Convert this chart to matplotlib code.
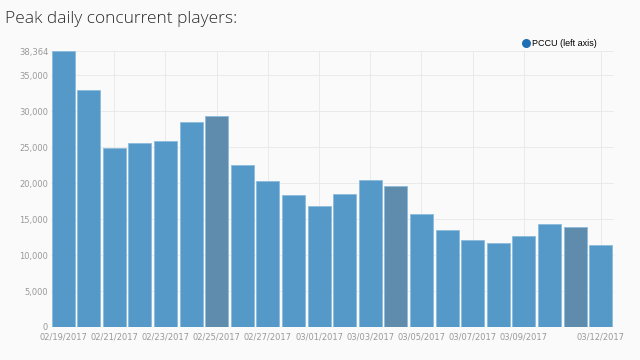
import matplotlib
matplotlib.use("Agg")
import matplotlib.pyplot as plt
import numpy as np

# Peak daily concurrent users, one bar per day
dates = [
    "02/19/2017", "02/20/2017", "02/21/2017", "02/22/2017", "02/23/2017",
    "02/24/2017", "02/25/2017", "02/26/2017", "02/27/2017", "02/28/2017",
    "03/01/2017", "03/02/2017", "03/03/2017", "03/04/2017", "03/05/2017",
    "03/06/2017", "03/07/2017", "03/08/2017", "03/09/2017", "03/10/2017",
    "03/11/2017", "03/12/2017",
]
pccu = [
    38364, 32950, 24850, 25550, 25850, 28450, 29300, 22450, 20300, 18350,
    16750, 18450, 20400, 19600, 15700, 13450, 12100, 11650, 12600, 14300,
    13900, 11350,
]
highlighted = ["02/25/2017", "03/04/2017", "03/11/2017"]
tick_labels = [
    "02/19/2017", "02/21/2017", "02/23/2017", "02/25/2017", "02/27/2017",
    "03/01/2017", "03/03/2017", "03/05/2017", "03/07/2017", "03/09/2017",
    "03/12/2017",
]
y_ticks = [0, 5000, 10000, 15000, 20000, 25000, 30000, 35000, 38364]

BG = "#fafafa"
BAR = "#5499c7"
BAR_DARK = "#5f8cad"
EDGE = "#8dbbdd"
TICK_COLOR = "#999999"

fig = plt.figure(figsize=(6.4, 3.6), dpi=100, facecolor=BG)
ax = fig.add_axes([51 / 640, 1 - 327 / 360, 563 / 640, 276 / 360], facecolor=BG)

x = np.arange(len(dates))
colors = [BAR_DARK if d in highlighted else BAR for d in dates]
ax.bar(x, pccu, width=0.9, color=colors, edgecolor=EDGE, linewidth=0.6, zorder=3)

ax.set_xlim(-0.47, len(dates) - 0.48)
ax.set_ylim(0, max(pccu))

tick_pos = [dates.index(t) for t in tick_labels]
ax.set_xticks(tick_pos)
ax.set_xticklabels(tick_labels, fontsize=6, color=TICK_COLOR, family="DejaVu Sans")
ax.set_yticks(y_ticks)
ax.set_yticklabels([f"{v:,}" for v in y_ticks], fontsize=6, color=TICK_COLOR, family="DejaVu Sans")
ax.tick_params(length=0, pad=2)
ax.tick_params(axis="x", pad=4)

ax.grid(True, color="#e8e8e8", linewidth=0.6, zorder=0)
for s in ax.spines.values():
    s.set_visible(False)

fig.text(5 / 640, 1 - 19 / 360, "Peak daily concurrent players:", fontsize=12.5,
         family="Open Sans", fontweight="light", color="#2b2b2b", va="center")

ax.scatter([], [], s=30, color="#1f6fb4", label="PCCU (left axis)")
fig.legend(loc="upper right", bbox_to_anchor=(600 / 640, 1 - 35 / 360), frameon=False,
           prop={"family": "Liberation Sans", "size": 6.5}, handletextpad=0.05,
           handlelength=1.2, borderaxespad=0)

fig.savefig("out.png", dpi=100, facecolor=BG)
